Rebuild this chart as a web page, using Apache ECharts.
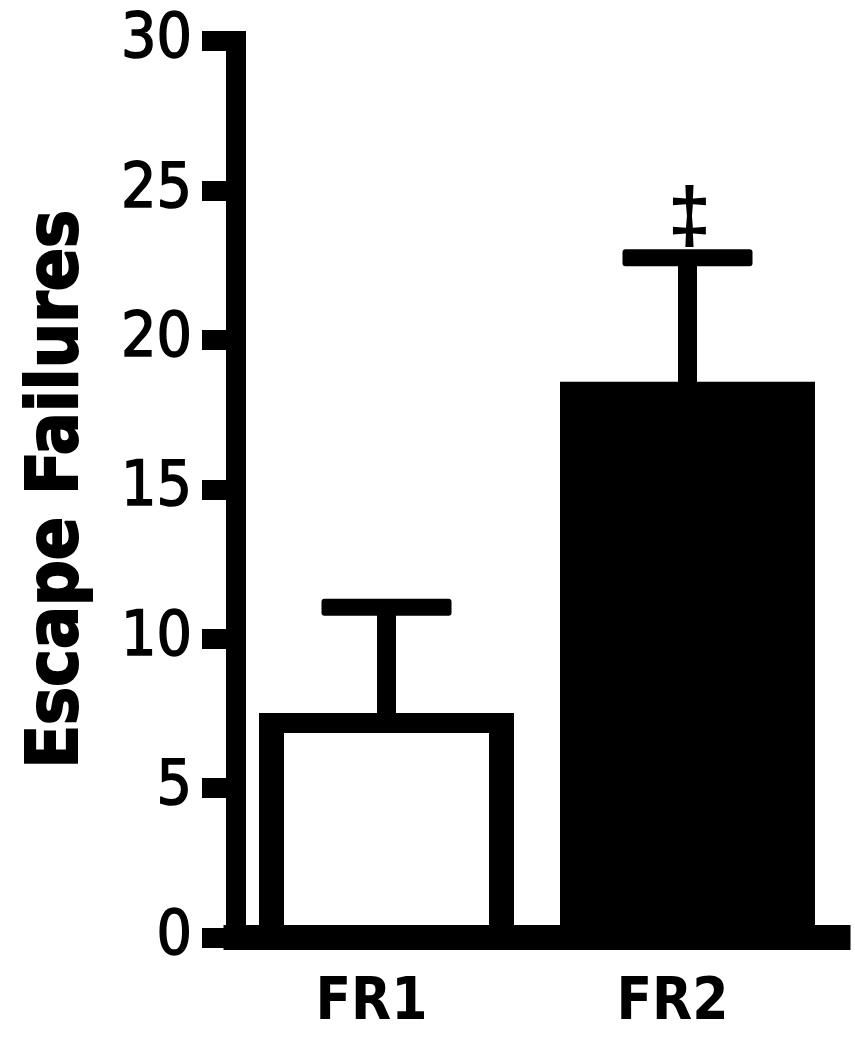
<!DOCTYPE html>
<html>
<head>
<meta charset="utf-8">
<script src="https://cdn.jsdelivr.net/npm/echarts@6/dist/echarts.min.js"></script>
<style>
html,body{margin:0;padding:0;background:#fff;}
#chart{width:855px;height:1050px;}
</style>
</head>
<body>
<div id="chart"></div>
<script>
const categories = ['FR1', 'FR2'];
const means = [7.18, 18.26];
const errorTops = [11.05, 22.75];
const marks = ['', '\u2021'];
const yMin = 0, yMax = 30, yInterval = 5;
const yTitle = 'Escape Failures';

const barFills = ['#ffffff', '#000000'];
const condensed = "'DejaVu Sans Condensed', 'Liberation Sans Narrow', 'Liberation Sans', sans-serif";

const chart = echarts.init(document.getElementById('chart'), null, {renderer: 'canvas'});
chart.setOption({
  animation: false,
  backgroundColor: '#ffffff',
  grid: {left: 236, right: 17, top: 41, bottom: 112.5, containLabel: false},
  xAxis: {
    type: 'category',
    data: categories,
    z: 10,
    axisLine: {show: true, lineStyle: {color: '#000', width: 25, cap: 'square'}},
    axisTick: {show: false},
    axisLabel: {color: '#000', fontFamily: condensed, fontWeight: 'bold', fontSize: 58, margin: 37,
      padding: [0, 30, 0, 0]}
  },
  yAxis: {
    type: 'value',
    min: yMin, max: yMax, interval: yInterval,
    name: yTitle,
    nameLocation: 'middle',
    nameGap: 142,
    nameRotate: 90,
    nameTextStyle: {color: '#000', fontFamily: condensed, fontWeight: 'bold', fontSize: 71,
      textBorderColor: '#000', textBorderWidth: 2},
    splitLine: {show: false},
    axisLine: {show: true, lineStyle: {color: '#000', width: 20, cap: 'square'}},
    axisTick: {show: true, length: 34, lineStyle: {color: '#000', width: 20}},
    axisLabel: {color: '#000', fontFamily: condensed, fontSize: 62, margin: 44,
      textBorderColor: '#000', textBorderWidth: 1.5}
  },
  series: [
    {
      type: 'custom',
      z: 2,
      data: categories.map((c, i) => [i, means[i]]),
      encode: {x: 0, y: 1},
      renderItem: function (params, api) {
        const i = api.value(0);
        const c = api.coord([i, api.value(1)]);
        const b = api.coord([i, 0]);
        const hw = 127.5, vb = 25, hb = 20;
        const top = c[1] - hb / 2;
        return {type: 'group', children: [
          {type: 'rect', shape: {x: c[0] - hw, y: top, width: hw * 2, height: b[1] - top}, style: {fill: '#000'}},
          {type: 'rect', shape: {x: c[0] - hw + vb, y: c[1] + hb / 2, width: hw * 2 - vb * 2, height: b[1] - c[1] - hb / 2},
            style: {fill: barFills[params.dataIndex]}}
        ]};
      }
    },
    {
      type: 'custom',
      z: 5,
      data: categories.map((c, i) => [i, means[i], errorTops[i]]),
      encode: {x: 0, y: 2},
      renderItem: function (params, api) {
        const i = api.value(0);
        const base = api.coord([i, api.value(1)]);
        const top = api.coord([i, api.value(2)]);
        const mark = marks[params.dataIndex];
        const children = [
          {type: 'rect', shape: {x: top[0] - 9.5, y: top[1], width: 19, height: base[1] - top[1]}, style: {fill: '#000'}},
          {type: 'rect', shape: {x: top[0] - 65, y: top[1] - 8.5, width: 130, height: 17, r: 3}, style: {fill: '#000'}}
        ];
        if (mark) {
          children.push({type: 'text', style: {text: mark, x: top[0] + 2, y: top[1] + 2,
            align: 'center', verticalAlign: 'bottom', fill: '#000',
            font: "bold 78px 'Liberation Sans', sans-serif"}});
        }
        return {type: 'group', children: children};
      }
    }
  ]
});
</script>
</body>
</html>
